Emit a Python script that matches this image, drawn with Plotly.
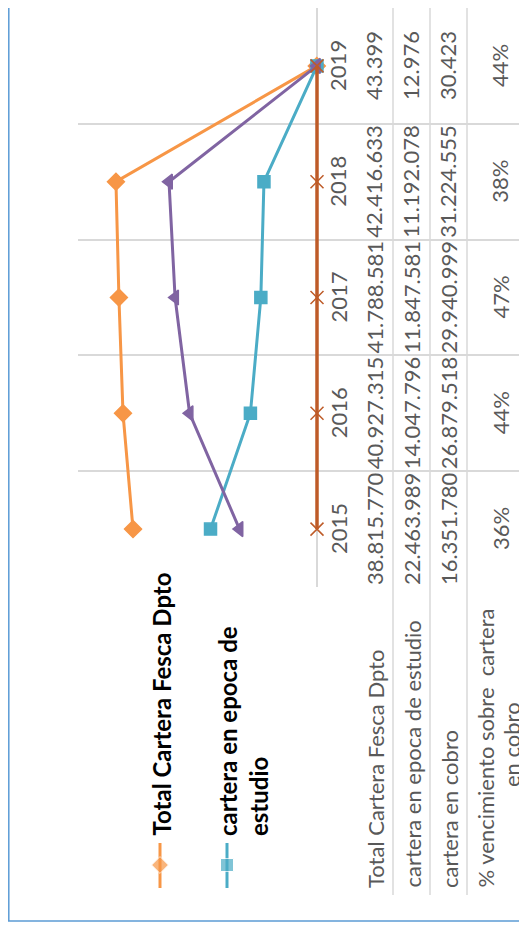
import plotly.graph_objects as go

years = [2015, 2016, 2017, 2018, 2019]
total_cartera = [38815770, 40927315, 41788581, 42416633, 43399]
cartera_epoca = [22463989, 14047796, 11847581, 11192078, 12976]
cartera_cobro = [16351780, 26879518, 29940999, 31224555, 30423]
pct_vencimiento = [0.36, 0.44, 0.47, 0.38, 0.44]

row_labels = ['Total Cartera Fesca Dpto', 'cartera en epoca de estudio', 'cartera en cobro',
              '% vencimiento sobre\u00a0 cartera']
row_label_extra = 'en cobro'
legend_labels = ['Total Cartera Fesca Dpto', 'cartera en epoca de<br>estudio']

SCREEN_W, SCREEN_H = 527, 932
OFF = 8  # page body margin: the figure starts 8px right and down in the screenshot
W, H = SCREEN_W - OFF, SCREEN_H - 2 * OFF  # keep the page from scrolling
FONT = 'Lato'
GRAY_TXT = '#595959'
GRID = '#D9D9D9'
ORANGE, TEAL, PURPLE, BROWN = '#F79646', '#4BACC6', '#8064A2', '#BE5B28'


# screen pixel -> paper coordinates
def px(x):
    return (x - OFF) / W


def py(y):
    return 1 - (y - OFF) / H


def fmt_num(v):
    return f'{v:,}'.replace(',', '.')


# the whole Excel chart is rotated 90 deg counter-clockwise:
# years run bottom -> top, values grow to the left from the axis at x=317
x_zero, x_left, x_right = 317, 78, SCREEN_W
px_per_unit = 4.74 / 1e6
x_range = [(x_zero - x_left) / px_per_unit, -(x_right - x_zero) / px_per_unit]

fig = go.Figure()
series = [
    (total_cartera, ORANGE, 'diamond', 13, 3),
    (cartera_epoca, TEAL, 'square', 12, 3),
    (cartera_cobro, PURPLE, 'triangle-left', 13, 3),
    (pct_vencimiento, BROWN, 'x-thin', 13, 3.5),
]
for vals, col, sym, size, lw in series:
    fig.add_trace(go.Scatter(
        x=vals, y=years, mode='lines+markers',
        line=dict(color=col, width=lw),
        marker=dict(symbol=sym, size=size, color=col, line=dict(color=col, width=1.5)),
        showlegend=False, hoverinfo='skip'))

# legend keys (vertical, like the rotated Excel legend)
for lx, col, sym in [(160, ORANGE, 'diamond'), (227, TEAL, 'square')]:
    fig.add_trace(go.Scatter(
        x=[lx, lx, lx], y=[843, 865, 888], xaxis='x2', yaxis='y2', mode='lines+markers',
        line=dict(color=col, width=3),
        marker=dict(symbol=sym, size=[0, 13, 0], color=col),
        showlegend=False, hoverinfo='skip'))

annotations = []
# data table cells
col_x = [374, 411, 448, 500]
table_cols = [
    [fmt_num(v) for v in total_cartera],
    [fmt_num(v) for v in cartera_epoca],
    [fmt_num(v) for v in cartera_cobro],
    [f'{round(p * 100)}%' for p in pct_vencimiento],
]
tfont = dict(family=FONT, size=22, color=GRAY_TXT)
for i, yr in enumerate(years):
    annotations.append(dict(x=px(338), xref='paper', y=yr, yref='y', text=str(yr),
                            xanchor='center', yanchor='middle',
                            textangle=-90, showarrow=False, font=tfont))
    for cx, col_vals in zip(col_x, table_cols):
        annotations.append(dict(x=px(cx), xref='paper', y=yr, yref='y', text=col_vals[i],
                                xanchor='center', yanchor='middle',
                                textangle=-90, showarrow=False, font=tfont))
# row labels of the table
for cx, lab in zip([375, 412, 449, 485], row_labels):
    annotations.append(dict(x=px(cx), xref='paper', y=py(890), yref='paper',
                            xanchor='center', yanchor='bottom',
                            text=lab, textangle=-90, showarrow=False, font=tfont))
annotations.append(dict(x=px(511), xref='paper', y=py(745), yref='paper',
                        xanchor='center', yanchor='middle',
                        text=row_label_extra, textangle=-90, showarrow=False, font=tfont))
# legend text
for lx, lab in zip([161, 243], legend_labels):
    annotations.append(dict(x=px(lx), xref='paper', y=py(838), yref='paper',
                            xanchor='center', yanchor='bottom',
                            text=f'<b>{lab}</b>', textangle=-90, showarrow=False, align='left',
                            font=dict(family=FONT, size=24, color='black')))

shapes = []
for sx in [393, 430, 467]:
    shapes.append(dict(type='line', xref='paper', yref='paper', x0=px(sx), x1=px(sx),
                       y0=py(8), y1=py(895), line=dict(color=GRID, width=1.5)))
# outer chart border (only left and bottom edges fall inside the picture)
shapes.append(dict(type='line', xref='paper', yref='paper', x0=px(8.8), x1=px(8.8),
                   y0=py(OFF), y1=py(921), line=dict(color='#5B9BD5', width=1.5)))
shapes.append(dict(type='line', xref='paper', yref='paper', x0=px(OFF), x1=px(SCREEN_W),
                   y0=py(921), y1=py(921), line=dict(color='#5B9BD5', width=1.5)))

fig.update_layout(
    width=W, height=H, margin=dict(l=0, r=0, t=0, b=0),
    paper_bgcolor='white', plot_bgcolor='rgba(0,0,0,0)',
    xaxis=dict(domain=[px(x_left), 1], range=x_range, showgrid=False, showticklabels=False,
               zeroline=True, zerolinecolor=GRID, zerolinewidth=1.5, ticks=''),
    yaxis=dict(domain=[py(587), py(8)], range=[2014.5, 2019.5], showticklabels=False,
               tickvals=[2015.5, 2016.5, 2017.5, 2018.5], showgrid=True, gridcolor=GRID,
               gridwidth=1.5, zeroline=False, ticks=''),
    xaxis2=dict(domain=[0, 1], range=[OFF, SCREEN_W], visible=False, anchor='y2'),
    yaxis2=dict(domain=[0, 1], range=[OFF + H, OFF], visible=False, anchor='x2'),
    annotations=annotations, shapes=shapes,
)

fig.write_html('out.html')
